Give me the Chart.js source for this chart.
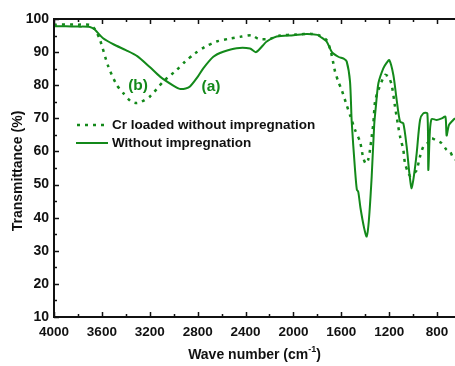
<!DOCTYPE html>
<html>
<head>
<meta charset="utf-8">
<script src="https://cdn.jsdelivr.net/npm/chart.js@4"></script>
<style>
  body { margin: 0; background: #fff; }
  canvas { display: block; }
</style>
</head>
<body>
<canvas id="ftir" width="455" height="366"></canvas>
<script>
// Without impregnation (solid, curve a)
const waveA = [4000, 3900, 3800, 3700, 3660, 3590, 3500, 3400, 3305, 3200, 3114, 3000, 2950, 2900, 2864, 2800, 2753, 2669, 2586, 2474, 2363, 2312, 2223, 2140, 2000, 1890, 1800, 1778, 1722, 1680, 1625, 1580, 1555, 1527, 1513, 1485, 1470, 1458, 1440, 1410, 1388, 1370, 1346, 1325, 1310, 1290, 1249, 1220, 1199, 1165, 1137, 1109, 1082, 1054, 1030, 1012, 990, 970, 942, 915, 881, 873, 860, 845, 803, 760, 730, 720, 700, 665, 650];
const transA = [97.8, 97.8, 97.7, 97.6, 96.8, 94.2, 92.3, 90.6, 88.8, 85.5, 82.6, 79.8, 78.9, 79.0, 79.6, 82.5, 85.1, 88.6, 90.1, 91.2, 91.1, 90.0, 93.2, 94.7, 95.1, 95.5, 95.2, 94.7, 93.2, 90.1, 88.6, 88.0, 87.2, 81.1, 69.0, 54.4, 48.5, 47.8, 43.0, 37.0, 34.3, 39.0, 52.4, 68.0, 74.0, 80.6, 85.1, 86.8, 87.6, 83.1, 75.5, 69.0, 68.5, 61.5, 53.0, 48.9, 53.5, 59.5, 69.5, 71.5, 71.5, 54.4, 66.0, 69.8, 69.5, 70.0, 70.5, 64.8, 68.0, 69.5, 70.0];

// Cr loaded without impregnation (dotted, curve b)
const waveB = [4000, 3800, 3700, 3660, 3616, 3546, 3476, 3421, 3360, 3310, 3270, 3198, 3087, 2975, 2906, 2822, 2739, 2641, 2544, 2432, 2349, 2293, 2196, 2112, 1978, 1850, 1780, 1720, 1690, 1666, 1652, 1625, 1597, 1555, 1527, 1485, 1444, 1416, 1395, 1375, 1360, 1346, 1332, 1318, 1290, 1235, 1207, 1179, 1151, 1124, 1109, 1082, 1068, 1040, 1020, 990, 970, 942, 914, 880, 845, 817, 762, 720, 692, 665, 650];
const transB = [98.3, 98.3, 98.2, 97.0, 93.7, 85.6, 80.1, 77.6, 75.2, 74.6, 75.0, 76.6, 81.1, 84.6, 87.1, 89.6, 91.6, 93.2, 94.0, 94.7, 95.1, 94.0, 94.0, 95.0, 95.3, 95.5, 95.0, 93.5, 90.5, 86.6, 84.1, 81.1, 78.6, 74.0, 71.0, 66.5, 63.0, 58.0, 56.3, 57.5, 60.5, 64.5, 68.5, 75.0, 78.6, 83.1, 82.6, 80.1, 73.5, 67.5, 64.5, 60.5, 56.5, 53.4, 52.6, 53.5, 54.4, 58.5, 61.5, 62.5, 64.0, 63.5, 62.5, 60.5, 60.0, 58.0, 57.5];

const xTicks = [4000, 3600, 3200, 2800, 2400, 2000, 1600, 1200, 800];
const yTicks = [10, 20, 30, 40, 50, 60, 70, 80, 90, 100];
const seriesNames = ['Cr loaded without impregnation', 'Without impregnation'];
const curveLabels = [{ text: '(b)', x: 3298, y: 79.8 }, { text: '(a)', x: 2688, y: 79.5 }];

const green = '#13891a';
const ink = '#111';
const font = 'Liberation Sans, Arial, DejaVu Sans, sans-serif';

function toPoints(xs, ys) {
    return xs.map((x, i) => ({ x: x, y: ys[i] }));
}

// axes, inward ticks, labels and legend drawn on top of the chart area
const frame = {
    id: 'frame',
    afterDraw(chart) {
        const c = chart.ctx;
        const a = chart.chartArea;
        const xs = chart.scales.x, ys = chart.scales.y;
        const right = chart.width;
        c.save();
        c.strokeStyle = ink;
        c.lineWidth = 2;
        c.beginPath();
        c.moveTo(a.left, a.top); c.lineTo(right, a.top);
        c.moveTo(a.left, a.top - 1); c.lineTo(a.left, a.bottom + 1);
        c.moveTo(a.left - 1, a.bottom); c.lineTo(right, a.bottom);
        c.stroke();

        // x ticks every 200, major every 400
        c.lineWidth = 1.5;
        c.beginPath();
        for (let v = 4000; v >= 650; v -= 200) {
            const px = Math.round(xs.getPixelForValue(v)) + 0.5;
            const len = (v % 400 === 0) ? 5 : 3;
            c.moveTo(px, a.bottom); c.lineTo(px, a.bottom - len);
            c.moveTo(px, a.top); c.lineTo(px, a.top + len);
        }
        // y ticks every 5, major every 10
        for (let v = 10; v <= 100; v += 5) {
            const py = Math.round(ys.getPixelForValue(v)) + 0.5;
            const len = (v % 10 === 0) ? 5 : 3;
            c.moveTo(a.left, py); c.lineTo(a.left + len, py);
        }
        c.stroke();

        c.fillStyle = ink;
        c.font = 'bold 13.5px ' + font;
        c.textAlign = 'center';
        c.textBaseline = 'middle';
        xTicks.forEach(v => c.fillText(String(v), xs.getPixelForValue(v), a.bottom + 15));
        c.font = 'bold 14px ' + font;
        c.textAlign = 'right';
        yTicks.forEach(v => c.fillText(String(v), a.left - 5, ys.getPixelForValue(v)));

        // axis titles
        c.textAlign = 'center';
        c.font = 'bold 14px ' + font;
        const cx = (a.left + right) / 2;
        const base = 'Wave number (cm';
        const wBase = c.measureText(base).width;
        c.font = 'bold 9px ' + font;
        const wSup = c.measureText('-1').width;
        c.font = 'bold 14px ' + font;
        const wEnd = c.measureText(')').width;
        let tx = cx - (wBase + wSup + wEnd) / 2;
        c.textAlign = 'left';
        c.fillText(base, tx, 355);
        c.font = 'bold 9px ' + font;
        c.fillText('-1', tx + wBase, 350);
        c.font = 'bold 14px ' + font;
        c.fillText(')', tx + wBase + wSup, 355);

        c.save();
        c.translate(18, (a.top + a.bottom) / 2 + 3);
        c.rotate(-Math.PI / 2);
        c.textAlign = 'center';
        c.fillText('Transmittance (%)', 0, 0);
        c.restore();

        // curve labels
        c.fillStyle = green;
        c.font = 'bold 15.5px ' + font;
        c.textAlign = 'center';
        curveLabels.forEach(l => c.fillText(l.text, xs.getPixelForValue(l.x), ys.getPixelForValue(l.y)));

        // legend
        c.strokeStyle = green;
        c.lineWidth = 2.5;
        c.setLineDash([3, 5]);
        c.beginPath(); c.moveTo(77, 125); c.lineTo(108, 125); c.stroke();
        c.setLineDash([]);
        c.lineWidth = 2;
        c.beginPath(); c.moveTo(76, 143); c.lineTo(108, 143); c.stroke();
        c.fillStyle = ink;
        c.font = 'bold 13.5px ' + font;
        c.textAlign = 'left';
        c.fillText(seriesNames[0], 112, 125);
        c.fillText(seriesNames[1], 112, 143);
        c.restore();
    }
};

const chart = new Chart(document.getElementById('ftir'), {
    type: 'line',
    data: {
        datasets: [
            { label: seriesNames[0], data: toPoints(waveB, transB), borderColor: green, borderWidth: 2.5, borderDash: [3, 5], pointRadius: 0, tension: 0.25 },
            { label: seriesNames[1], data: toPoints(waveA, transA), borderColor: green, borderWidth: 2, pointRadius: 0, tension: 0.25 }
        ]
    },
    options: {
        responsive: false,
        animation: false,
        layout: { padding: { left: 54, top: 19, right: 0, bottom: 49 } },
        scales: {
            x: { type: 'linear', min: 650, max: 4000, reverse: true, display: false },
            y: { min: 10, max: 100, display: false }
        },
        plugins: { legend: { display: false }, tooltip: { enabled: false } }
    },
    plugins: [frame]
});
</script>
</body>
</html>
